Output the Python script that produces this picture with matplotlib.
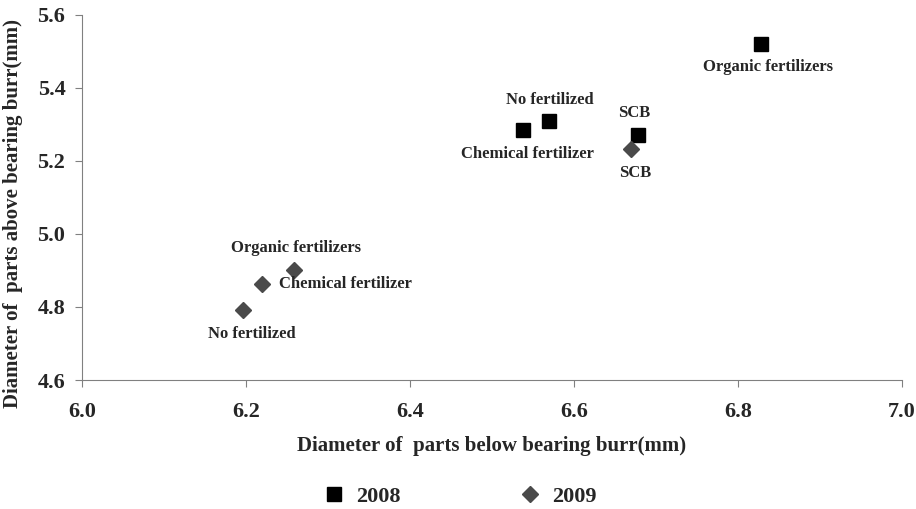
import matplotlib.pyplot as plt

plt.rcParams['font.family'] = ['Liberation Serif', 'DejaVu Serif']
plt.rcParams['font.weight'] = 'bold'

labels = ['Organic fertilizers', 'No fertilized', 'Chemical fertilizer', 'SCB']
x_2008 = [6.828, 6.569, 6.538, 6.678]
y_2008 = [5.521, 5.310, 5.285, 5.271]
x_2009 = [6.258, 6.196, 6.220, 6.670]
y_2009 = [4.901, 4.792, 4.863, 5.233]

fig = plt.figure(figsize=(9.16, 5.09), dpi=100)
ax = fig.add_axes([82 / 916, 1 - 380 / 509, 820 / 916, 365 / 509])

p1, = ax.plot(x_2008, y_2008, 's', color='black', markersize=10.5, linestyle='none', label='2008')
p2, = ax.plot(x_2009, y_2009, 'D', color='#4a4a4a', markersize=8, linestyle='none', label='2009')

# label offsets in points (dx, dy, ha)
off_2008 = [(5, -17, 'center'), (1, 15, 'center'), (3, -17, 'center'), (-3, 16, 'center')]
off_2009 = [(1.5, 16, 'center'), (6.5, -17, 'center'), (12, 0, 'left'), (3, -17, 'center')]
for lab, x, y, (dx, dy, ha) in zip(labels, x_2008, y_2008, off_2008):
    ax.annotate(lab, (x, y), xytext=(dx, dy), textcoords='offset points',
                ha=ha, va='center', fontsize=12, fontweight='bold', color='#262626')
for lab, x, y, (dx, dy, ha) in zip(labels, x_2009, y_2009, off_2009):
    ax.annotate(lab, (x, y), xytext=(dx, dy), textcoords='offset points',
                ha=ha, va='center', fontsize=12, fontweight='bold', color='#262626')

ax.set_xlim(6.0, 7.0)
ax.set_ylim(4.6, 5.6)
ax.set_xticks([6.0, 6.2, 6.4, 6.6, 6.8, 7.0])
ax.set_yticks([4.6, 4.8, 5.0, 5.2, 5.4, 5.6])
ax.set_xticklabels(['6.0', '6.2', '6.4', '6.6', '6.8', '7.0'])
ax.set_yticklabels(['4.6', '4.8', '5.0', '5.2', '5.4', '5.6'])
ax.spines['top'].set_visible(False)
ax.spines['right'].set_visible(False)
for s in ['left', 'bottom']:
    ax.spines[s].set_color('#808080')
ax.tick_params(axis='both', direction='out', length=5, color='#808080',
               labelsize=16, labelcolor='#262626')
ax.tick_params(axis='x', pad=11)
ax.tick_params(axis='y', pad=7)
ax.set_xlabel('Diameter of  parts below bearing burr(mm)', fontsize=15, fontweight='bold',
              color='#262626', labelpad=10)
ax.set_ylabel('Diameter of  parts above bearing burr(mm)', fontsize=15, fontweight='bold',
              color='#262626', va='center')
ax.yaxis.set_label_coords(-0.084, 0.455)

fig.legend(handles=[p1, p2], loc='center', bbox_to_anchor=(0.502, 0.024), ncol=2,
           frameon=False, columnspacing=5.3, handletextpad=0.5, handlelength=1.0,
           prop={'size': 16, 'weight': 'bold'}, labelcolor='#262626')

fig.savefig('out.png', dpi=100)
